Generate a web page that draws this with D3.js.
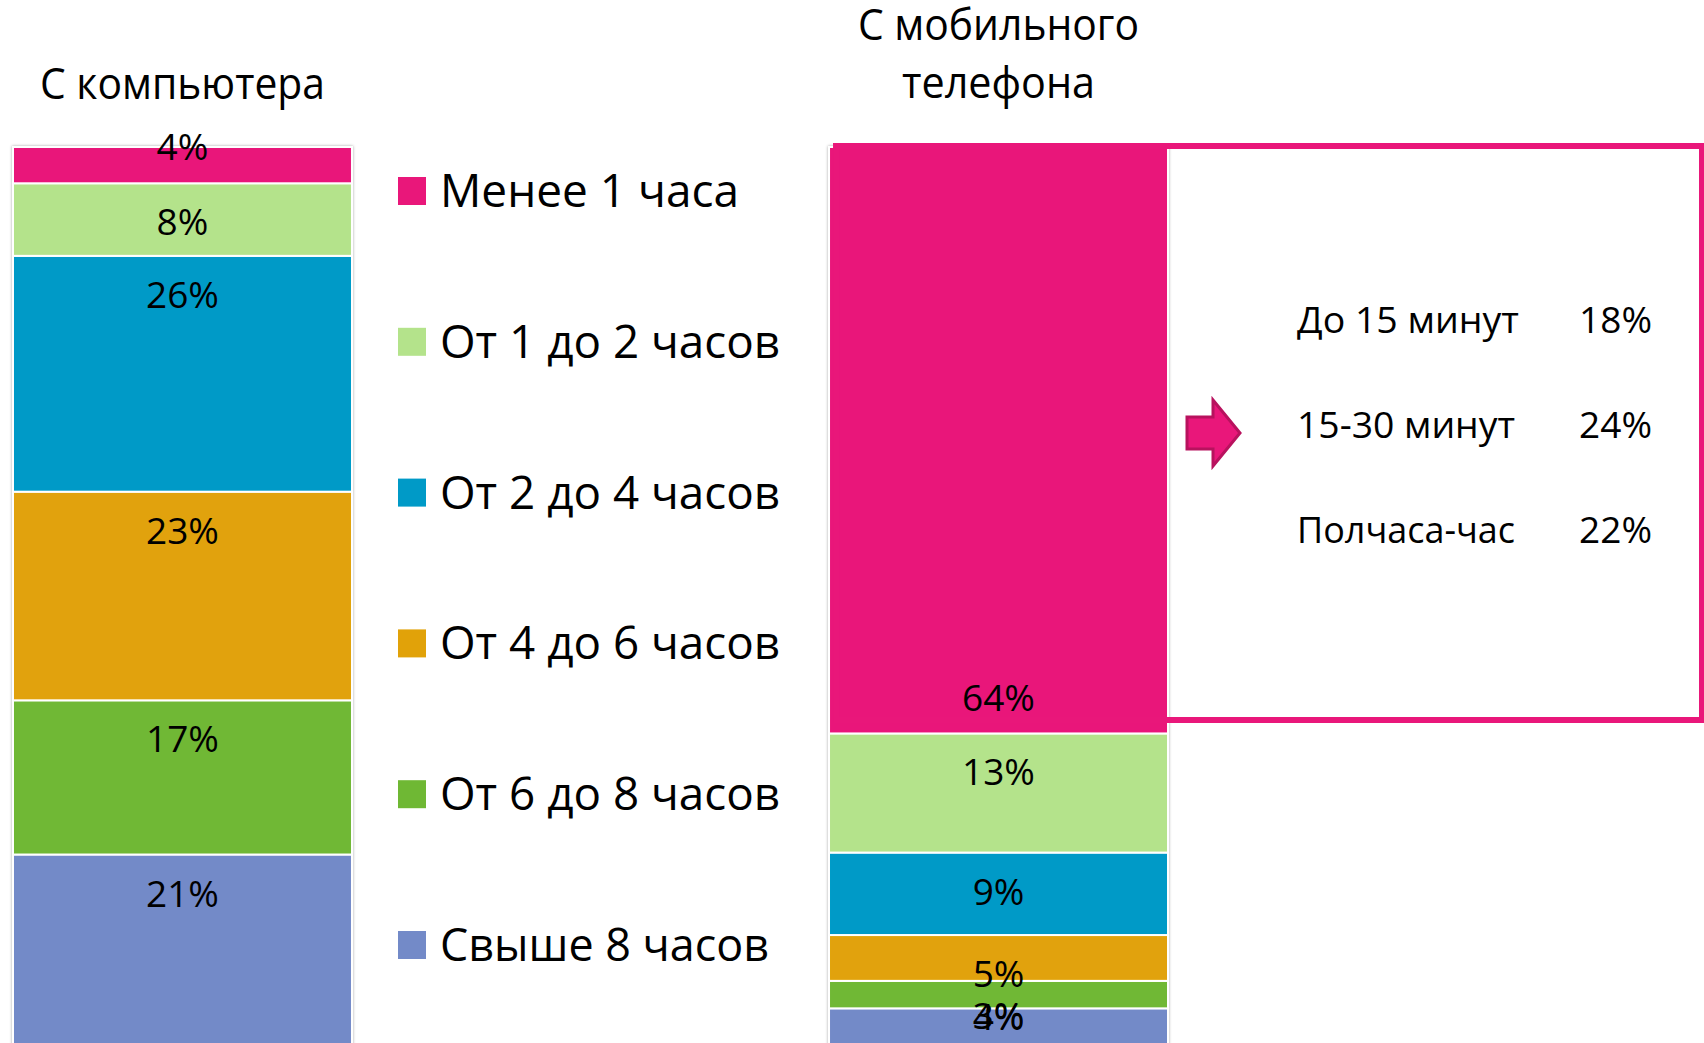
<!DOCTYPE html>
<html>
<head>
<meta charset="utf-8">
<script src="https://cdn.jsdelivr.net/npm/d3@7"></script>
<style>
  html, body { margin: 0; padding: 0; background: #fff; }
  svg { display: block; font-family: "Open Sans", "Noto Sans", sans-serif; }
</style>
</head>
<body>
<svg id="chart" width="1704" height="1043"></svg>
<script>
// ---------- data ----------
const categories = ["С компьютера", "С мобильного телефона"];
const seriesNames = ["Менее 1 часа", "От 1 до 2 часов", "От 2 до 4 часов", "От 4 до 6 часов", "От 6 до 8 часов", "Свыше 8 часов"];
const computerValues = [4, 8, 26, 23, 17, 21];
const mobileValues = [64, 13, 9, 5, 3, 4];
const breakdownLabels = ["До 15 минут", "15-30 минут", "Полчаса-час"];
const breakdownValues = [18, 24, 22];

// ---------- styles / layout ----------
const colors = ["#E9177A", "#B4E38B", "#009AC7", "#E1A209", "#6FB834", "#738AC8"];
const titleLines = [["С компьютера"], ["С мобильного", "телефона"]];
const titleLengths = [[285], [281, 193]];
const titleBaselines = [[99], [40, 98]];
const legendWidths = [299, 340, 340, 340, 340, 329];
const breakdownWidths = [222, 218, 218];
// label baseline offsets from segment top (px); special cases where the original differs
const labelDefaultDy = 52;
const labelOverrides = { "0-0": { dy: 13 }, "1-0": { fromBottom: -22 }, "1-4": { dy: 48 }, "1-5": { dy: 22 } };

const svg = d3.select("#chart");
const defs = svg.append("defs");
const f = defs.append("filter").attr("id", "shadow").attr("x", "-5%").attr("y", "-5%").attr("width", "110%").attr("height", "110%");
f.append("feDropShadow").attr("dx", 0).attr("dy", 0).attr("stdDeviation", 1.6)
  .attr("flood-color", "#000").attr("flood-opacity", 0.35);

// table for stacking
const table = categories.map((c, i) => {
  const row = { category: c };
  const vals = i === 0 ? computerValues : mobileValues;
  seriesNames.forEach((s, j) => row[s] = vals[j]);
  return row;
});

// bottom series first so "Менее 1 часа" ends up on top
const stack = d3.stack().keys(seriesNames.slice().reverse()).offset(d3.stackOffsetExpand);
const stacked = stack(table);

const x = d3.scaleBand().domain(categories).range([13, 1168]).paddingInner(0.5846).paddingOuter(0);
const y = d3.scaleLinear().domain([0, 1]).range([1045, 147]);
const color = d3.scaleOrdinal().domain(seriesNames).range(colors);

// bars
const barG = svg.append("g").attr("filter", "url(#shadow)");
stacked.forEach(layer => {
  barG.selectAll(null).data(layer).join("rect")
    .attr("x", d => x(d.data.category))
    .attr("width", x.bandwidth())
    .attr("y", d => y(d[1]))
    .attr("height", d => y(d[0]) - y(d[1]))
    .attr("fill", color(layer.key))
    .attr("stroke", "#fff")
    .attr("stroke-width", 2);
});

// callout box around the mobile "Менее 1 часа" segment
const mobCat = categories[1];
const mobTopLayer = stacked.find(l => l.key === seriesNames[0]);
const mobSeg = mobTopLayer.find(d => d.data.category === mobCat);
const boxLeft = x(mobCat) + 7;
const boxTop = y(mobSeg[1]) - 1;
svg.append("rect")
  .attr("x", boxLeft).attr("y", boxTop)
  .attr("width", 1702 - boxLeft).attr("height", 720 - boxTop)
  .attr("fill", "none").attr("stroke", colors[0]).attr("stroke-width", 6);

// value labels
const labelG = svg.append("g");
stacked.forEach(layer => {
  const sIdx = seriesNames.indexOf(layer.key);
  layer.forEach(d => {
    const cIdx = categories.indexOf(d.data.category);
    const top = y(d[1]), bottom = y(d[0]);
    const ov = labelOverrides[cIdx + "-" + sIdx];
    let by = top + labelDefaultDy;
    if (ov && ov.dy !== undefined) by = top + ov.dy;
    if (ov && ov.fromBottom !== undefined) by = bottom + ov.fromBottom;
    labelG.append("text")
      .attr("x", x(d.data.category) + x.bandwidth() / 2)
      .attr("y", by)
      .attr("text-anchor", "middle")
      .attr("font-size", 37)
      .attr("fill", "#000")
      .text(d.data[layer.key] + "%");
  });
});

// titles
categories.forEach((c, i) => {
  titleLines[i].forEach((line, k) => {
    svg.append("text")
      .attr("x", x(c) + x.bandwidth() / 2)
      .attr("y", titleBaselines[i][k])
      .attr("text-anchor", "middle")
      .attr("font-size", 43)
      .attr("textLength", titleLengths[i][k])
      .attr("lengthAdjust", "spacingAndGlyphs")
      .attr("fill", "#000")
      .text(line);
  });
});

// legend
const legendY = d3.scalePoint().domain(seriesNames).range([207, 961]);
const lg = svg.append("g");
seriesNames.forEach((s, i) => {
  lg.append("rect")
    .attr("x", 398).attr("y", legendY(s) - 30)
    .attr("width", 28).attr("height", 28)
    .attr("fill", color(s));
  lg.append("text")
    .attr("x", 440).attr("y", legendY(s))
    .attr("font-size", 45)
    .attr("textLength", legendWidths[i])
    .attr("lengthAdjust", "spacingAndGlyphs")
    .attr("fill", "#000")
    .text(s);
});

// breakdown inside callout
const by = d3.scalePoint().domain(breakdownLabels).range([333, 543]);
breakdownLabels.forEach((b, i) => {
  svg.append("text")
    .attr("x", 1297).attr("y", by(b))
    .attr("font-size", 37)
    .attr("textLength", breakdownWidths[i])
    .attr("lengthAdjust", "spacingAndGlyphs")
    .attr("fill", "#000")
    .text(b);
  svg.append("text")
    .attr("x", 1652).attr("y", by(b))
    .attr("text-anchor", "end")
    .attr("font-size", 37)
    .attr("fill", "#000")
    .text(breakdownValues[i] + "%");
});

// arrow
const ay = by(breakdownLabels[1]) - 5;
const arrow = d3.path();
arrow.moveTo(1187, ay - 16);
arrow.lineTo(1213, ay - 16);
arrow.lineTo(1213, ay - 33);
arrow.lineTo(1240, ay);
arrow.lineTo(1213, ay + 33);
arrow.lineTo(1213, ay + 16);
arrow.lineTo(1187, ay + 16);
arrow.closePath();
svg.append("path").attr("d", arrow.toString())
  .attr("fill", colors[0]).attr("stroke", "#B8125E").attr("stroke-width", 3)
  .attr("stroke-linejoin", "miter");
</script>
</body>
</html>
